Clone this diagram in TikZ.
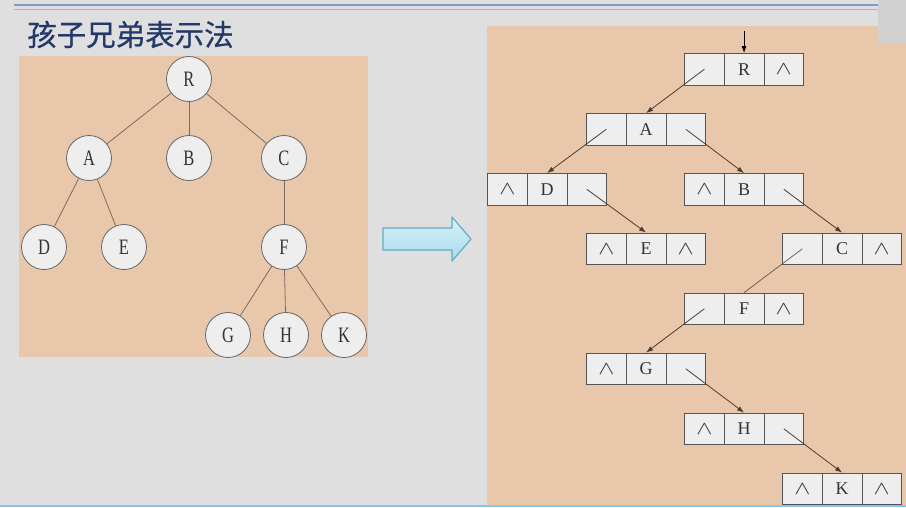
\documentclass[tikz,border=0pt]{standalone}
\usepackage{fontspec}
\setmainfont{Liberation Serif}
\newfontfamily\cjkfont[FakeBold=0.6]{Noto Sans CJK SC}
\newfontfamily\narrowserif[FakeStretch=0.75]{Liberation Serif}
\usetikzlibrary{arrows.meta}
\definecolor{bggray}{HTML}{DFDFDF}
\definecolor{peach}{HTML}{E9C7AA}
\definecolor{cellfill}{HTML}{EEEEEE}
\definecolor{celldraw}{HTML}{555555}
\definecolor{titleblue}{HTML}{22396A}
\definecolor{edgebrown}{HTML}{7F6B5C}
\definecolor{ptrcol}{HTML}{4A3C30}
\definecolor{rulebluea}{HTML}{7F9CC8}
\definecolor{ruleblueb}{HTML}{A4B8D6}
\definecolor{bottomblue}{HTML}{8CC4E8}
\definecolor{boxgray}{HTML}{D1D1D1}
\definecolor{arrowfilltop}{HTML}{D6F1F9}
\definecolor{arrowfillbot}{HTML}{A9DCEC}
\definecolor{arrowdraw}{HTML}{5FAEC6}
\definecolor{textdark}{HTML}{333333}
\newcommand\wdg{\scalebox{1.4}[1.1]{$\wedge$}}
\newcommand\mklistnode[6]{%
  \node[cell] (#1l) at ({#2+19.85},{#3+15.75}) {#4};
  \node[cell] (#1m) at ({#2+59.55},{#3+15.75}) {#5};
  \node[cell] (#1r) at ({#2+99.25},{#3+15.75}) {#6};
}
\begin{document}
\begin{tikzpicture}[x=1pt,y=-1pt,
  cell/.style={draw=celldraw, fill=cellfill, line width=0.8pt, minimum width=39.7pt, minimum height=31.5pt, inner sep=0pt, text=textdark, font=\fontsize{18}{20}\selectfont},
  treenode/.style={circle, draw=black!60, fill=cellfill, line width=0.8pt, minimum size=45pt, inner sep=0pt, text=textdark, font=\narrowserif\fontsize{22}{24}\selectfont},
  treeedge/.style={draw=edgebrown, line width=0.8pt},
  ptr/.style={draw=ptrcol, line width=0.8pt, -{Latex[length=7pt,width=5pt]}},
  ptrplain/.style={draw=ptrcol!80, line width=0.8pt}]
% background
\fill[bggray] (0,0) rectangle (906,507);
\useasboundingbox (0,0) rectangle (906,507);
\fill[peach] (486.5,26) rectangle (906,505);
\fill[boxgray] (878,0) rectangle (906,43);
\draw[rulebluea, line width=2pt] (14,4.5) -- (878,4.5);
\draw[ruleblueb, line width=1pt] (14,9) -- (878,9);
\draw[bottomblue, line width=2pt] (0,506) -- (906,506);
\fill[peach] (19,56) rectangle (368,357);
% title
\node[anchor=west, inner sep=0pt, text=titleblue, font=\cjkfont\fontsize{29.5}{33}\selectfont] (title) at (27,34.5) {孩子兄弟表示法};
% tree
\node[treenode] (R) at (189,79) {R};
\node[treenode] (A) at (89,158) {A};
\node[treenode] (B) at (189,158) {B};
\node[treenode] (C) at (284,158) {C};
\node[treenode] (D) at (44,247) {D};
\node[treenode] (E) at (124,247) {E};
\node[treenode] (F) at (284,247) {F};
\node[treenode] (G) at (228,335) {G};
\node[treenode] (H) at (286,335) {H};
\node[treenode] (K) at (344,335) {K};
\draw[treeedge] (R) -- (A);
\draw[treeedge] (R) -- (B);
\draw[treeedge] (R) -- (C);
\draw[treeedge] (A) -- (D);
\draw[treeedge] (A) -- (E);
\draw[treeedge] (C) -- (F);
\draw[treeedge] (F) -- (G);
\draw[treeedge] (F) -- (H);
\draw[treeedge] (F) -- (K);
% block arrow
\draw[arrowdraw, line width=1.2pt, top color=arrowfilltop, bottom color=arrowfillbot, line join=round]
  (383,228) -- (452,228) -- (452,217) -- (471,239) -- (452,261) -- (452,250) -- (383,250) -- cycle;
% child-sibling lists
\mklistnode{R}{684.5}{53.5}{}{R}{\wdg}
\mklistnode{A}{586.5}{113.5}{}{A}{}
\mklistnode{D}{487.5}{173.5}{\wdg}{D}{}
\mklistnode{B}{684.5}{173.5}{\wdg}{B}{}
\mklistnode{E}{586.5}{233}{\wdg}{E}{\wdg}
\mklistnode{C}{782.5}{233}{}{C}{\wdg}
\mklistnode{F}{684.5}{293}{}{F}{\wdg}
\mklistnode{G}{586.5}{353}{\wdg}{G}{}
\mklistnode{H}{684.5}{413}{\wdg}{H}{}
\mklistnode{K}{782.5}{473}{\wdg}{K}{\wdg}
\coordinate (head) at (744.05,31);
\draw[ptr, draw=black] (head) -- (Rm.north);
\draw[ptr] (Rl.center) -- (Am.north);
\draw[ptr] (Al.center) -- (Dm.north);
\draw[ptr] (Ar.center) -- (Bm.north);
\draw[ptr] (Dr.center) -- (Em.north);
\draw[ptr] (Br.center) -- (Cm.north);
\draw[ptrplain] (Cl.center) -- (Fm.north);
\draw[ptr] (Fl.center) -- (Gm.north);
\draw[ptr] (Gr.center) -- (Hm.north);
\draw[ptr] (Hr.center) -- (Km.north);
\end{tikzpicture}
\end{document}
